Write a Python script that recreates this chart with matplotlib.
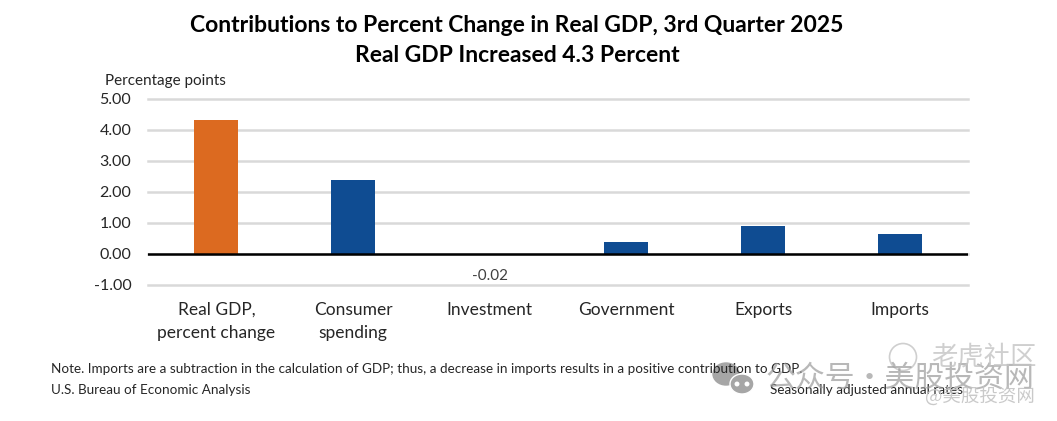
import matplotlib
matplotlib.use('Agg')
import matplotlib.pyplot as plt
from matplotlib.patches import Ellipse

categories = ['Real GDP,\npercent change', 'Consumer\nspending', 'Investment',
              'Government', 'Exports', 'Imports']
values = [4.30, 2.38, -0.02, 0.38, 0.90, 0.65]
bar_colors = ['#DC6A20', '#0F4C92', '#0F4C92', '#0F4C92', '#0F4C92', '#0F4C92']
y_ticks = [-1, 0, 1, 2, 3, 4, 5]

W, H = 1057, 421
TXT = '#262626'
CJK = ['Noto Sans CJK SC', 'DejaVu Sans']

plt.rcParams['font.family'] = ['Lato', 'DejaVu Sans']

fig = plt.figure(figsize=(W / 100, H / 100), dpi=100)
ax = fig.add_axes([148 / W, 1 - 285 / H, 820 / W, (285 - 98.5) / H])

ax.bar(range(len(values)), values, width=0.32, color=bar_colors, zorder=3)
ax.set_xlim(-0.5, 5.5)
ax.set_ylim(-1, 5)
ax.set_yticks(y_ticks)
ax.set_yticklabels(['%.2f' % t for t in y_ticks], fontsize=11.5, color=TXT)
ax.set_xticks(range(len(categories)))
ax.set_xticklabels(categories, fontsize=12.5, color=TXT, linespacing=1.55, va='top')
ax.tick_params(axis='both', length=0)
ax.tick_params(axis='x', pad=12)
ax.tick_params(axis='y', pad=12)
ax.grid(axis='y', color='#D9D9D9', lw=1.8, zorder=0)
# top and bottom gridlines sit on the axes edge
for gl in ax.get_ygridlines():
    gl.set_clip_on(False)
for s in ax.spines.values():
    s.set_visible(False)
ax.axhline(0, color='black', lw=1.8, zorder=4)

# only the one small negative value has a label in the original
ax.annotate('-0.02', (2, values[2]), xytext=(0, -10.5), textcoords='offset points',
            ha='center', va='top', fontsize=11, color='#404040')

fig.text(517 / W, 1 - 25 / H, 'Contributions to Percent Change in Real GDP, 3rd Quarter 2025',
         ha='center', va='center', fontsize=16.5, fontweight='bold', color='black')
fig.text(517 / W, 1 - 56 / H, 'Real GDP Increased 4.3 Percent',
         ha='center', va='center', fontsize=16.5, fontweight='bold', color='black')
fig.text(105 / W, 1 - 81 / H, 'Percentage points', ha='left', va='center',
         fontsize=11, color=TXT)

fig.text(51 / W, 1 - 369 / H,
         'Note. Imports are a subtraction in the calculation of GDP; thus, a decrease in imports '
         'results in a positive contribution to GDP.',
         ha='left', va='center', fontsize=9.75, color=TXT)
fig.text(51 / W, 1 - 390 / H, 'U.S. Bureau of Economic Analysis', ha='left', va='center',
         fontsize=9.75, color=TXT)
fig.text(963 / W, 1 - 390 / H, 'Seasonally adjusted annual rates', ha='right', va='center',
         fontsize=9.75, color=TXT)

# watermark
fig.text(765 / W, 1 - 378 / H, '公众号・美股投资网', family=CJK, ha='left', va='center',
         fontsize=21.5, color='#9A9A9A', alpha=0.7)
fig.text(931 / W, 1 - 357 / H, '老虎社区', family=CJK, ha='left', va='center',
         fontsize=19, color='#C4C4C4', alpha=0.8)
fig.text(925 / W, 1 - 397 / H, '@美股投资网', family=CJK, ha='left', va='center',
         fontsize=13.3, color='#C4C4C4', alpha=0.9)
bg = fig.add_axes([0, 0, 1, 1], facecolor='none')
bg.set_xlim(0, W)
bg.set_ylim(H, 0)
bg.axis('off')
bg.add_patch(Ellipse((726, 374), 26, 22, color='#A6A6A6'))
bg.add_patch(Ellipse((742, 384), 24, 20, fc='#A6A6A6', ec='white', lw=1))
for ex, ey in [(737, 384), (747, 384)]:
    bg.add_patch(Ellipse((ex, ey), 3.5, 3.5, color='white'))
bg.add_patch(Ellipse((903, 357), 27, 27, fill=False, ec='#CFCFCF', lw=1.2))

fig.savefig('out.png', dpi=100)
